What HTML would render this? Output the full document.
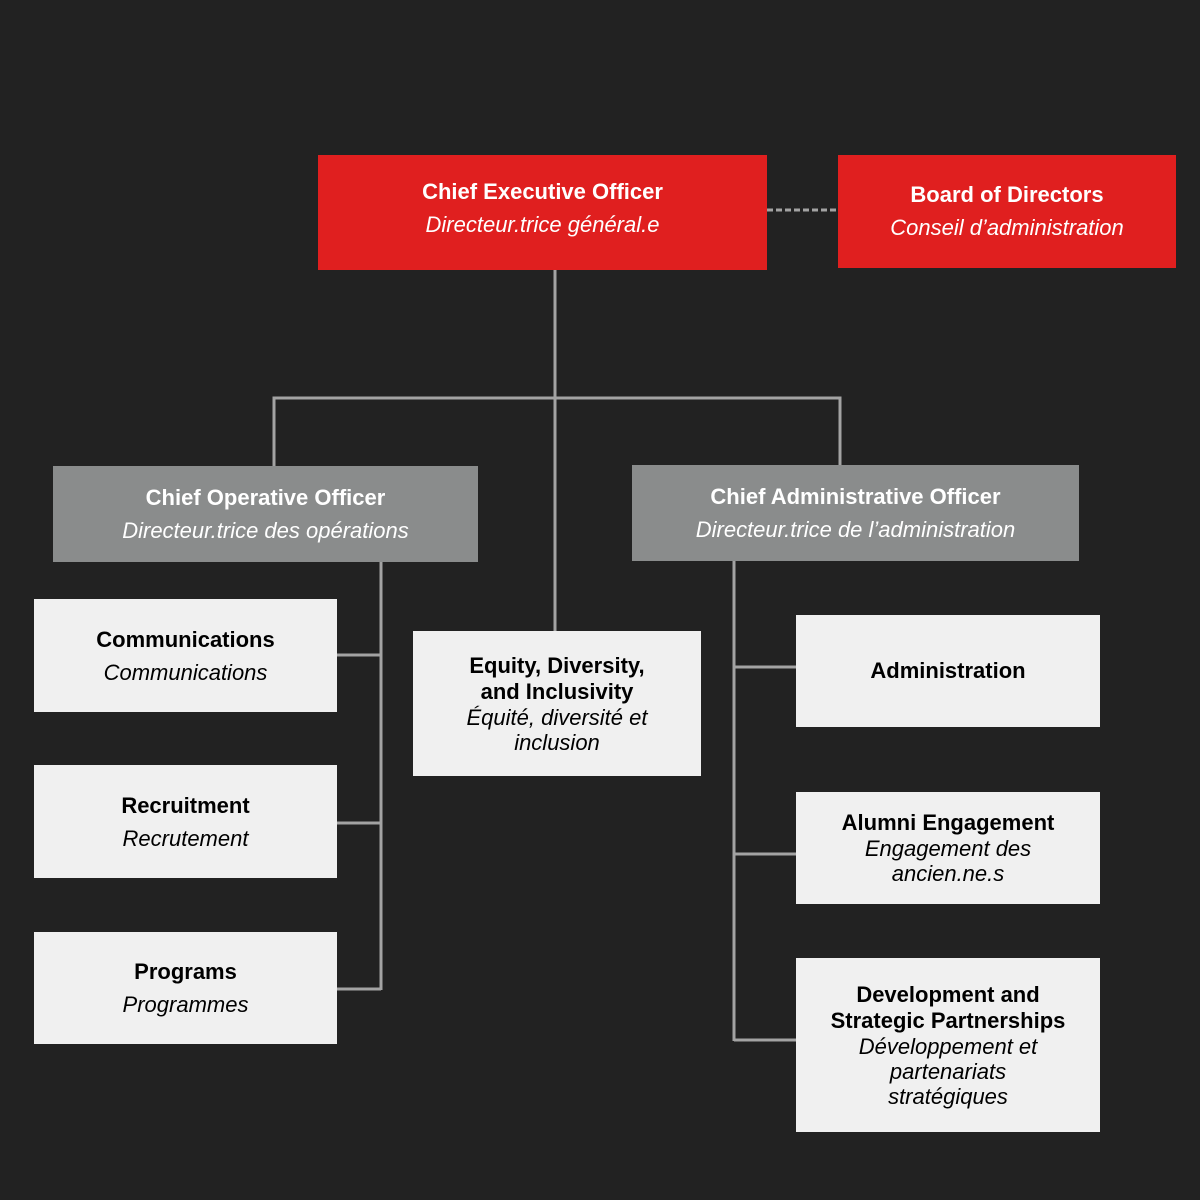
<!DOCTYPE html>
<html><head><meta charset="utf-8"><style>
body{margin:0;width:1200px;height:1200px;background:#222222;position:relative;overflow:hidden;font-family:"Liberation Sans",sans-serif}
.b{position:absolute;display:flex;flex-direction:column;justify-content:center;align-items:center;text-align:center;box-sizing:border-box}
.b b{font-size:22px;line-height:26px}
.b i{font-size:22px;line-height:26px}
.r{background:#e01f1f;color:#fff}
.g{background:#8a8c8c;color:#fff}
.w{background:#f0f0f0;color:#000}
.w i{line-height:25px}
</style></head><body>
<svg width="1200" height="1200" style="position:absolute;left:0;top:0">
<g stroke="#a3a3a3" stroke-width="3" fill="none">
<line x1="767" y1="210" x2="838" y2="210" stroke-dasharray="6,3"/>
<line x1="555" y1="270" x2="555" y2="632"/>
<polyline points="274,466 274,398 840,398 840,465"/>
<line x1="381" y1="562" x2="381" y2="990"/>
<line x1="337" y1="655" x2="381" y2="655"/>
<line x1="337" y1="823" x2="381" y2="823"/>
<line x1="337" y1="989" x2="381" y2="989"/>
<line x1="734" y1="561" x2="734" y2="1041"/>
<line x1="734" y1="667" x2="796" y2="667"/>
<line x1="734" y1="854" x2="796" y2="854"/>
<line x1="734" y1="1040" x2="796" y2="1040"/>
</g></svg>
<div class="b r" style="left:318px;top:155px;width:449px;height:115px;padding-bottom:8px"><b>Chief Executive Officer</b><i style="margin-top:7px">Directeur.trice général.e</i></div>
<div class="b r" style="left:838px;top:155px;width:338px;height:113px"><b>Board of Directors</b><i style="margin-top:7px">Conseil d’administration</i></div>
<div class="b g" style="left:53px;top:466px;width:425px;height:96px"><b>Chief Operative Officer</b><i style="margin-top:7px">Directeur.trice des opérations</i></div>
<div class="b g" style="left:632px;top:465px;width:447px;height:96px"><b>Chief Administrative Officer</b><i style="margin-top:7px">Directeur.trice de l’administration</i></div>
<div class="b w" style="left:34px;top:599px;width:303px;height:113px"><b>Communications</b><i style="margin-top:7px">Communications</i></div>
<div class="b w" style="left:34px;top:765px;width:303px;height:113px"><b>Recruitment</b><i style="margin-top:7px">Recrutement</i></div>
<div class="b w" style="left:34px;top:932px;width:303px;height:112px"><b>Programs</b><i style="margin-top:7px">Programmes</i></div>
<div class="b w" style="left:413px;top:631px;width:288px;height:145px"><b>Equity, Diversity,<br>and Inclusivity</b><i>Équité, diversité et<br>inclusion</i></div>
<div class="b w" style="left:796px;top:615px;width:304px;height:112px"><b>Administration</b></div>
<div class="b w" style="left:796px;top:792px;width:304px;height:112px"><b>Alumni Engagement</b><i>Engagement des<br>ancien.ne.s</i></div>
<div class="b w" style="left:796px;top:958px;width:304px;height:174px"><b>Development and<br>Strategic Partnerships</b><i>Développement et<br>partenariats<br>stratégiques</i></div>
</body></html>
